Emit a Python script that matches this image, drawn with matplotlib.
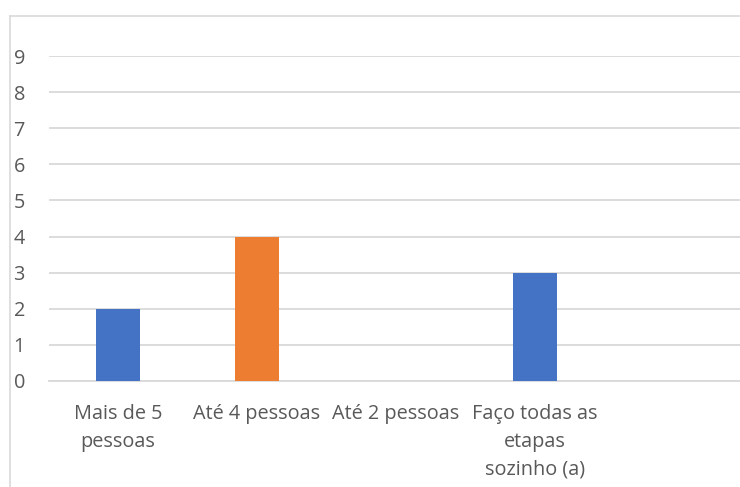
import matplotlib
matplotlib.use("Agg")
import matplotlib.pyplot as plt
from matplotlib.lines import Line2D

# categorias do eixo x (a ultima fica vazia, como no original)
categorias = ["Mais de 5\npessoas", "Até 4 pessoas", "Até 2 pessoas",
              "Faço todas as\netapas\nsozinho (a)", ""]
valores = [2, 4, 0, 3, 0]
cores = ["#4472C4", "#ED7D31", "#4472C4", "#4472C4", "#4472C4"]
ticks_y = [0, 1, 2, 3, 4, 5, 6, 7, 8, 9]

plt.rcParams['font.family'] = ['Open Sans', 'DejaVu Sans']

W, H = 740, 487
fig = plt.figure(figsize=(W / 100, H / 100), dpi=100)

# area do grafico em pixels: x 48.5 -> 743.5, y 56 (valor 9) -> 381 (valor 0)
left, right, top, bottom = 48.5, 743.5, 56.0, 381.0
ax = fig.add_axes([left / W, 1 - bottom / H, (right - left) / W, (bottom - top) / H])

x = list(range(len(categorias)))
ax.bar(x, valores, width=0.31, color=cores, zorder=3)

ax.set_xlim(-0.5, len(categorias) - 0.5)
ax.set_ylim(0, 9)
ax.set_yticks(ticks_y)
ax.set_yticklabels([str(t) for t in ticks_y])
ax.set_xticks(x)
ax.set_xticklabels(categorias, linespacing=1.53)

ax.grid(axis="y", color="#D9D9D9", linewidth=1.3, zorder=0)
ax.tick_params(axis="y", length=0, pad=17, labelsize=14.3, labelcolor="#595959")
ax.tick_params(axis="x", length=0, pad=16.5, labelsize=14.3, labelcolor="#595959")
for s in ["top", "right", "left"]:
    ax.spines[s].set_visible(False)
ax.spines["bottom"].set_color("#D9D9D9")
ax.spines["bottom"].set_linewidth(1.3)
ax.set_facecolor("none")

# moldura do grafico (cortada na direita e embaixo)
fig.add_artist(Line2D([9.5 / W, 1.0], [1 - 15.5 / H, 1 - 15.5 / H],
                      transform=fig.transFigure, color="#D9D9D9", linewidth=1.2))
fig.add_artist(Line2D([9.5 / W, 9.5 / W], [0, 1 - 15.5 / H],
                      transform=fig.transFigure, color="#D9D9D9", linewidth=1.2))

fig.savefig("out.png", dpi=100)
